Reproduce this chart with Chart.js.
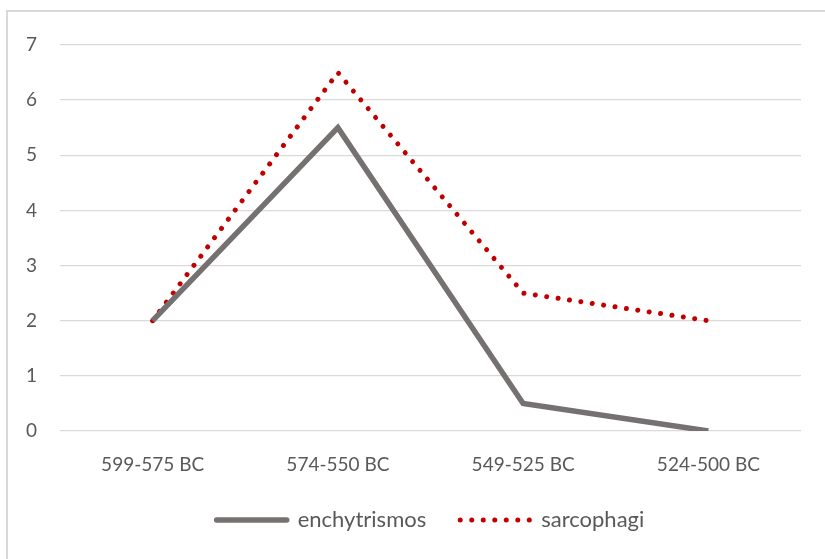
<!DOCTYPE html>
<html>
<head>
<meta charset="utf-8">
<script src="https://cdn.jsdelivr.net/npm/chart.js@4.4.1/dist/chart.umd.min.js"></script>
<style>
  html, body { margin: 0; padding: 0; background: #fff; overflow: hidden; }
  #wrap { width: 825px; height: 559px; position: relative; }
</style>
</head>
<body>
<div id="wrap"><canvas id="burialChart" width="825" height="559"></canvas></div>
<script>
const periods = ["599-575 BC", "574-550 BC", "549-525 BC", "524-500 BC"];
const enchytrismos = [2, 5.5, 0.5, 0];
const sarcophagi = [2, 6.5, 2.5, 2];
const yMin = 0, yMax = 7, yStep = 1;

// light grey frame, only top and left edges show in the picture
const frame = {
    id: "frame",
    beforeDraw(chart) {
        const c = chart.ctx;
        c.save();
        c.fillStyle = "#ffffff";
        c.fillRect(0, 0, chart.width, chart.height);
        c.strokeStyle = "#d9d9d9";
        c.lineWidth = 2;
        c.strokeRect(7, 11, 900, 700);
        c.restore();
    }
};

const ctx = document.getElementById("burialChart");

new Chart(ctx, {
    type: "line",
    data: {
        labels: periods,
        datasets: [
            {
                label: "enchytrismos",
                data: enchytrismos,
                borderColor: "#767171",
                backgroundColor: "#767171",
                borderWidth: 5.5,
                borderCapStyle: "butt",
                borderJoinStyle: "miter",
                pointRadius: 0,
                tension: 0
            },
            {
                label: "sarcophagi",
                data: sarcophagi,
                borderColor: "#c00000",
                backgroundColor: "#c00000",
                borderWidth: 5,
                borderDash: [0.01, 11.5],
                borderCapStyle: "round",
                pointRadius: 0,
                tension: 0
            }
        ]
    },
    options: {
        responsive: false,
        animation: false,
        layout: {
            padding: { top: 45, right: 24, left: 0, bottom: 18 }
        },
        plugins: {
            tooltip: { enabled: false },
            legend: {
                position: "bottom",
                fullSize: false,
                labels: {
                    usePointStyle: true,
                    pointStyle: "line",
                    pointStyleWidth: 70,
                    padding: 34,
                    color: "#595959",
                    font: { family: "Lato", size: 22 },
                    generateLabels(chart) {
                        const items = Chart.defaults.plugins.legend.labels.generateLabels(chart);
                        items.forEach(it => {
                            const ds = chart.data.datasets[it.datasetIndex];
                            it.lineCap = "round";
                            it.lineDash = ds.borderDash || [];
                            it.lineWidth = ds.borderWidth;
                            it.strokeStyle = ds.borderColor;
                        });
                        return items;
                    }
                }
            }
        },
        scales: {
            x: {
                offset: true,
                grid: { display: false, drawTicks: false },
                border: { display: false },
                ticks: {
                    color: "#595959",
                    font: { family: "Lato", size: 19 },
                    padding: 22,
                    maxRotation: 0
                },
                afterFit(scale) { scale.height = 44; }
            },
            y: {
                min: yMin,
                max: yMax,
                grid: { color: "#d9d9d9", lineWidth: 1.3, drawTicks: false },
                border: { display: false },
                ticks: {
                    stepSize: yStep,
                    color: "#595959",
                    font: { family: "Lato", size: 19 },
                    padding: 23
                },
                afterFit(scale) { scale.width = 60; }
            }
        }
    },
    plugins: [frame]
});
</script>
</body>
</html>
